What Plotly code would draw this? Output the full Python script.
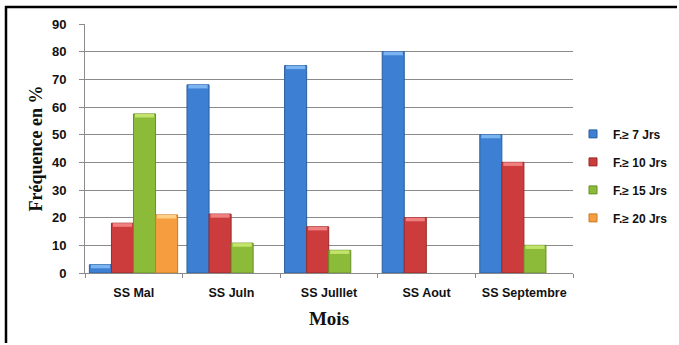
import plotly.graph_objects as go

# Monthly frequency (%) of dry spells by minimum duration
months = ["SS Mal", "SS Juln", "SS Julllet", "SS Aout", "SS Septembre"]
series_names = ["F.≥ 7 Jrs", "F.≥ 10 Jrs", "F.≥ 15 Jrs", "F.≥ 20 Jrs"]
f7 = [3, 68, 75, 80, 50]
f10 = [18, 21.3, 16.7, 20, 40]
f15 = [57.5, 10.8, 8.2, None, 10]
f20 = [21, None, None, None, None]
y_ticks = [0, 10, 20, 30, 40, 50, 60, 70, 80, 90]

series_values = [f7, f10, f15, f20]
body_colors = ["#3d7fd2", "#cc3c3c", "#8cbb3a", "#f59d3f"]
edge_colors = ["#2b5f9e", "#992a2a", "#6a8f26", "#c97a26"]
top_colors = ["#7cb4f2", "#f07f7f", "#c3e46a", "#ffcf86"]

bar_w = 0.226
first_offset = -0.455
cap = 1.3  # depth of the lighter bevel at the top of each bar

fig = go.Figure()
for k, (name, vals) in enumerate(zip(series_names, series_values)):
    off = first_offset + k * bar_w
    fig.add_trace(go.Bar(
        x=months, y=vals, name=name, width=bar_w, offset=off,
        marker=dict(color=body_colors[k], line=dict(color=edge_colors[k], width=1)),
        showlegend=False,
    ))
    # lighter bevel along the top edge
    fig.add_trace(go.Bar(
        x=months,
        y=[cap if v is not None else None for v in vals],
        base=[v - cap if v is not None else None for v in vals],
        width=bar_w - 0.03, offset=off + 0.015,
        marker=dict(color=top_colors[k], line=dict(width=0)),
        showlegend=False, hoverinfo="skip",
    ))
    # legend entry with a small square key
    fig.add_trace(go.Scatter(
        x=[None], y=[None], mode="markers", name=f"<b>{name}</b>",
        marker=dict(symbol="square", size=8, color=body_colors[k],
                    line=dict(color=edge_colors[k], width=1)),
        legendgroup=name,
    ))

grid = "#8a8a8a"
L, R, T, B = 85, 106, 24, 72
W, H = 679, 345
pw, ph = W - L - R, H - T - B


def px_x(px):
    return (px - L) / pw


def px_y(py):
    return (H - B - py) / ph


frame = dict(color="#000", width=2.5)

fig.update_layout(
    width=W, height=H,
    margin=dict(l=L, r=R, t=T, b=B, pad=0, autoexpand=False),
    paper_bgcolor="white", plot_bgcolor="white",
    barmode="overlay",
    showlegend=True,
    legend=dict(
        x=1.0, xanchor="left", y=0.39, yanchor="middle",
        font=dict(family="Liberation Sans", size=12, color="#111"),
        tracegroupgap=9, itemwidth=30,
        bgcolor="rgba(0,0,0,0)",
    ),
    xaxis=dict(
        type="category", categoryorder="array", categoryarray=months,
        tickvals=months, ticktext=[f"<b>{m}</b>" for m in months],
        showline=True, linecolor=grid, linewidth=1,
        ticks="outside", tickson="boundaries", ticklen=4, tickcolor=grid,
        showgrid=False,
        tickfont=dict(family="Liberation Sans", size=12.5, color="#111"),
        ticklabelstandoff=8,
        title=dict(text="<b>Mois</b>", standoff=12,
                   font=dict(family="Liberation Serif", size=19, color="#111")),
    ),
    yaxis=dict(
        range=[0, 90], tickvals=y_ticks, ticktext=[f"<b>{v}</b>" for v in y_ticks],
        showline=True, linecolor=grid, linewidth=1,
        ticks="outside", ticklen=5, tickcolor=grid,
        showgrid=True, gridcolor=grid, gridwidth=1, zeroline=False,
        tickfont=dict(family="Liberation Sans", size=13, color="#111"),
        ticklabelstandoff=10,
        title=dict(text="<b>Fréquence en %</b>", standoff=4,
                   font=dict(family="Liberation Serif", size=18, color="#111")),
    ),
    # outer frame: top and left edges
    shapes=[
        dict(type="line", xref="paper", yref="paper",
             x0=px_x(5), x1=px_x(W - 2), y0=px_y(7), y1=px_y(7),
             line=frame, layer="above"),
        dict(type="line", xref="paper", yref="paper",
             x0=px_x(6), x1=px_x(6), y0=px_y(6), y1=px_y(H - 2),
             line=frame, layer="above"),
    ],
)

fig.write_html("out.html")
